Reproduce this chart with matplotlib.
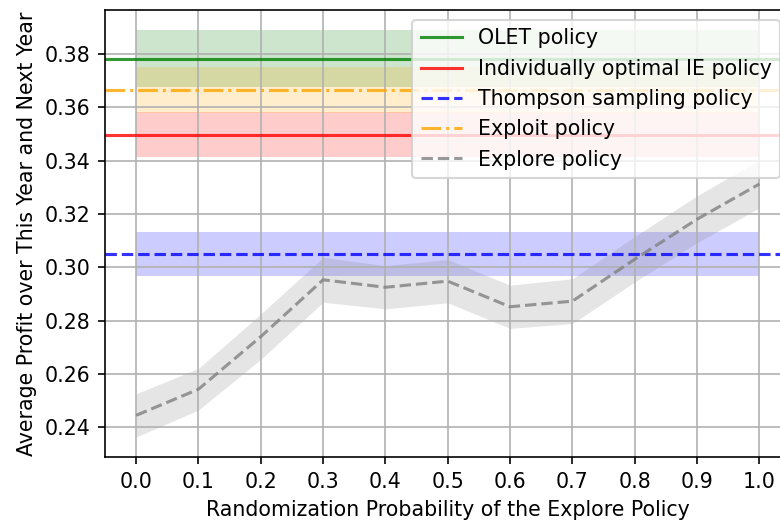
import numpy as np
import matplotlib
matplotlib.use("Agg")
import matplotlib.pyplot as plt

# Randomization probabilities of the explore policy
probs = [0.0, 0.1, 0.2, 0.3, 0.4, 0.5, 0.6, 0.7, 0.8, 0.9, 1.0]

# Explore policy: mean profit and half-width of its band
explore_mean = [0.2445, 0.2543, 0.2740, 0.2953, 0.2925, 0.2948, 0.2852, 0.2873, 0.3030, 0.3180, 0.3312]
explore_err = [0.0081, 0.0078, 0.0085, 0.0084, 0.0081, 0.0081, 0.0081, 0.0084, 0.0085, 0.0088, 0.0090]

# Benchmark policies: mean profit and half-width of band
olet_mean, olet_err = 0.3781, 0.0107
ie_mean, ie_err = 0.3497, 0.0085
ts_mean, ts_err = 0.3050, 0.0083
exploit_mean, exploit_err = 0.3665, 0.0085

DPI = 148
fig = plt.figure(figsize=(780 / DPI, 525 / DPI), dpi=DPI)
ax = fig.add_axes([105 / 780, 1 - 457.3 / 525, 685.5 / 780, 447.3 / 525])

span = [probs[0], probs[-1]]
alpha_line = 0.8
alpha_band = 0.2

ax.axhline(olet_mean, color="g", lw=1.5, alpha=alpha_line, label="OLET policy")
ax.fill_between(span, olet_mean - olet_err, olet_mean + olet_err, color="g", alpha=alpha_band, lw=0)

ax.axhline(ie_mean, color="r", lw=1.5, alpha=alpha_line, label="Individually optimal IE policy")
ax.fill_between(span, ie_mean - ie_err, ie_mean + ie_err, color="r", alpha=alpha_band, lw=0)

ax.axhline(ts_mean, color="b", ls="--", lw=1.5, alpha=alpha_line, label="Thompson sampling policy")
ax.fill_between(span, ts_mean - ts_err, ts_mean + ts_err, color="b", alpha=alpha_band, lw=0)

ax.axhline(exploit_mean, color="orange", ls="-.", lw=1.5, alpha=alpha_line, label="Exploit policy")
ax.fill_between(span, exploit_mean - exploit_err, exploit_mean + exploit_err, color="orange", alpha=alpha_band, lw=0)

em = np.array(explore_mean)
ee = np.array(explore_err)
ax.plot(probs, em, color="gray", ls="--", lw=1.5, alpha=alpha_line, label="Explore policy")
ax.fill_between(probs, em - ee, em + ee, color="gray", alpha=alpha_band, lw=0)

ax.set_xticks(probs)
ax.grid(True)
ax.set_xlabel("Randomization Probability of the Explore Policy")
ax.set_ylabel("Average Profit over This Year and Next Year")
ax.legend(loc="upper right")

fig.savefig("out.png", dpi=DPI)
